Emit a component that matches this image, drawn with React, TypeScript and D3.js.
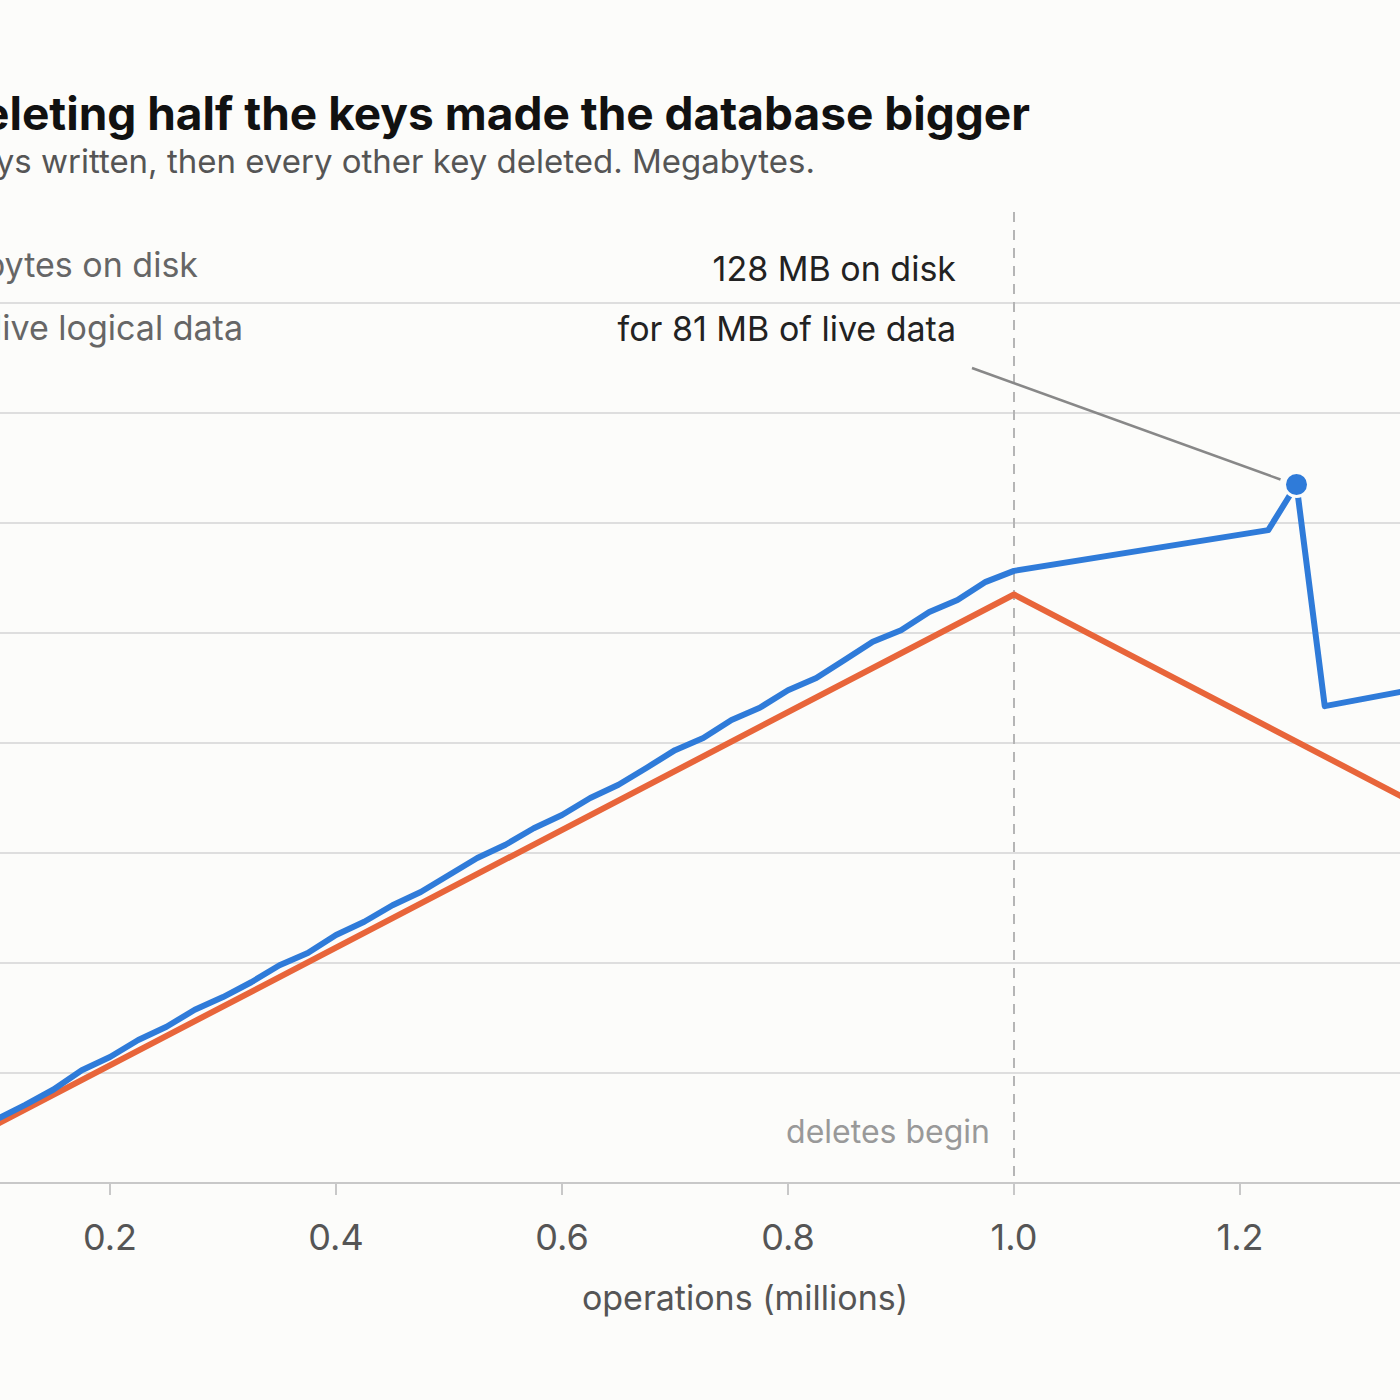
import * as d3 from "d3"

// blue: bytes on disk (MB), orange: live logical data (MB)
const diskOps = [0, 0.05, 0.075, 0.1, 0.125, 0.15, 0.175, 0.2, 0.225, 0.25, 0.275, 0.3, 0.325, 0.35, 0.375, 0.4, 0.425, 0.45, 0.475, 0.5, 0.525, 0.55, 0.575, 0.6, 0.625, 0.65, 0.675, 0.7, 0.725, 0.75, 0.775, 0.8, 0.825, 0.85, 0.875, 0.9, 0.925, 0.95, 0.975, 1.0, 1.225, 1.25, 1.275, 1.35]
const diskMB = [0, 5.5, 8.5, 11.6, 14.2, 17.0, 20.5, 22.9, 26.0, 28.4, 31.5, 33.8, 36.5, 39.6, 41.8, 45.1, 47.5, 50.5, 52.9, 56.0, 59.1, 61.5, 64.5, 66.9, 70.0, 72.4, 75.5, 78.7, 80.9, 84.2, 86.4, 89.6, 91.8, 95.1, 98.4, 100.5, 103.8, 106.0, 109.3, 111.3, 118.7, 127.0, 86.7, 89.6]
const liveOps = [0, 1.0, 1.5]
const liveMB = [0, 107, 53.5]
const yTicks = [20, 40, 60, 80, 100, 120, 140, 160]
const xTicks = [0.2, 0.4, 0.6, 0.8, 1.0, 1.2, 1.4]

export default function App() {
  const x = d3.scaleLinear().domain([0, 1]).range([-116, 1014])
  const y = d3.scaleLinear().domain([0, 160]).range([1183, 303])
  const line = d3.line<[number, number]>().x((d) => x(d[0])).y((d) => y(d[1]))
  const disk = diskOps.map((o, i) => [o, diskMB[i]] as [number, number])
  const live = liveOps.map((o, i) => [o, liveMB[i]] as [number, number])
  const font = "Inter, 'Liberation Sans', sans-serif"

  return (
    <svg width={1400} height={1400} style={{ position: "absolute", left: 0, top: 0, fontFamily: font }}>
      <rect width={1400} height={1400} fill="#fcfcfa" />
      {yTicks.map((t) => (
        <line key={t} x1={-200} x2={1400} y1={y(t)} y2={y(t)} stroke="#dedede" strokeWidth={2} />
      ))}
      <line x1={-200} x2={1400} y1={y(0)} y2={y(0)} stroke="#c8c8c8" strokeWidth={2} />
      {xTicks.map((t) => (
        <g key={t}>
          <line x1={x(t)} x2={x(t)} y1={y(0)} y2={y(0) + 12} stroke="#c8c8c8" strokeWidth={2} />
          <text x={x(t)} y={1250} fontSize={36} fill="#555" textAnchor="middle">{t.toFixed(1)}</text>
        </g>
      ))}
      <text x={745} y={1310} fontSize={34} fill="#555" textAnchor="middle">operations (millions)</text>
      <line x1={x(1)} x2={x(1)} y1={212} y2={y(0)} stroke="#b5b5b5" strokeWidth={2} strokeDasharray="10 8" />
      <text x={990} y={1143} fontSize={32} fill="#999" textAnchor="end">deletes begin</text>

      <path d={line(live) ?? ""} fill="none" stroke="#e8653a" strokeWidth={6} strokeLinejoin="round" />
      <path d={line(disk) ?? ""} fill="none" stroke="#2f7bd9" strokeWidth={6} strokeLinejoin="round" />
      <line x1={972} y1={368} x2={x(1.25) - 16} y2={y(127) - 5} stroke="#888" strokeWidth={2.5} />
      <circle cx={x(1.25)} cy={y(127)} r={12} fill="#2f7bd9" stroke="#fcfcfa" strokeWidth={3} />

      <text x={956} y={281} fontSize={34} fill="#222" textAnchor="end">128 MB on disk</text>
      <text x={956} y={341} fontSize={34} fill="#222" textAnchor="end">for 81 MB of live data</text>

      <text x={1030} y={130} fontSize={46} fontWeight="bold" fill="#111" textAnchor="end">Deleting half the keys made the database bigger</text>
      <text x={815} y={173} fontSize={33} fill="#555" textAnchor="end">One million keys written, then every other key deleted. Megabytes.</text>
      <text x={198} y={277} fontSize={34} fill="#666" textAnchor="end">bytes on disk</text>
      <text x={243} y={340} fontSize={34} fill="#666" textAnchor="end">live logical data</text>
    </svg>
  )
}
